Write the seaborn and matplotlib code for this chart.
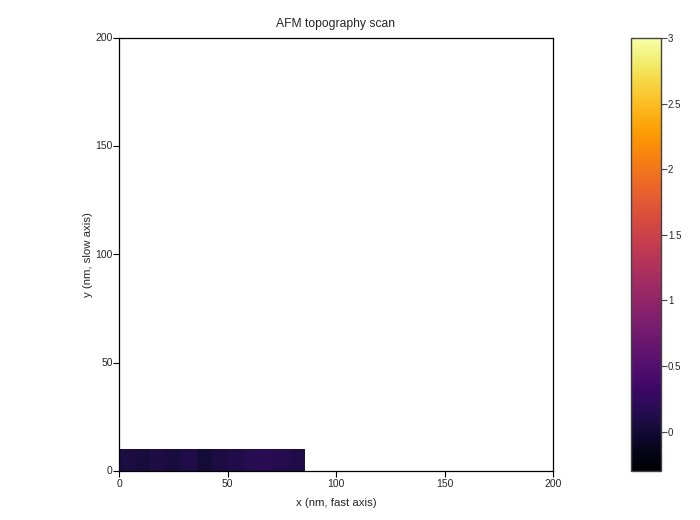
import numpy as np
import pandas as pd
import matplotlib
matplotlib.use("Agg")
import matplotlib.pyplot as plt
import seaborn as sns

# AFM scan - only the first line of the fast axis got recorded
height_nm = [0.07, 0.04, 0.09, 0.05, 0.11, 0.02, 0.08, 0.10, 0.16, 0.17, 0.14, 0.12]
pixel_x = 7.15    # nm per pixel along fast axis
pixel_y = 10.0    # nm per line along slow axis
scan_range = 200  # nm
ticks_nm = [0, 50, 100, 150, 200]
cbar_ticks = [0, 0.5, 1, 1.5, 2, 2.5, 3]
cbar_labels = ["0", "0.5", "1", "1.5", "2", "2.5", "3"]
z_min, z_max = -0.3, 3.0

sns.set_theme(style="white")
plt.rcParams['font.family'] = ['Liberation Sans', 'DejaVu Sans']

z = pd.DataFrame([height_nm])

fig = plt.figure(figsize=(7, 5.2), dpi=100)
ax = fig.add_axes([119 / 700, 1 - 471 / 520, 434 / 700, 433 / 520])
cax = fig.add_axes([631 / 700, 1 - 471 / 520, 30 / 700, 433 / 520])

sns.heatmap(z, ax=ax, cbar_ax=cax, cmap="inferno", vmin=z_min, vmax=z_max)

# heatmap works in cell units, so map nm onto them
ax.set_xlim(0, scan_range / pixel_x)
ax.set_ylim(0, scan_range / pixel_y)
ax.set_xticks(np.array(ticks_nm) / pixel_x)
ax.set_xticklabels([str(t) for t in ticks_nm], rotation=0, fontsize=7.5)
ax.set_yticks(np.array(ticks_nm) / pixel_y)
ax.set_yticklabels([str(t) for t in ticks_nm], rotation=0, fontsize=7.5)
ax.tick_params(axis="both", which="both", direction="out", length=4, width=0.8,
               color="black", left=True, bottom=True, pad=2)
ax.tick_params(axis="y", pad=0.5)
for sp in ax.spines.values():
    sp.set_visible(True)
    sp.set_color("black")
    sp.set_linewidth(0.9)

ax.set_xlabel("x (nm, fast axis)", fontsize=8.2, labelpad=6)
ax.set_ylabel("y (nm, slow axis)", fontsize=8.2, labelpad=2)
ax.set_title("AFM topography scan", fontsize=8.7, pad=8)

cax.set_yticks(cbar_ticks)
cax.set_yticklabels(cbar_labels, fontsize=7)
cax.tick_params(axis="y", direction="out", length=4, width=0.8, color="#444444",
                right=True, pad=1)
cbar = ax.collections[0].colorbar
cbar.outline.set_visible(True)
cbar.outline.set_edgecolor("#444444")
cbar.outline.set_linewidth(1.0)

fig.savefig("out.png", dpi=100)
